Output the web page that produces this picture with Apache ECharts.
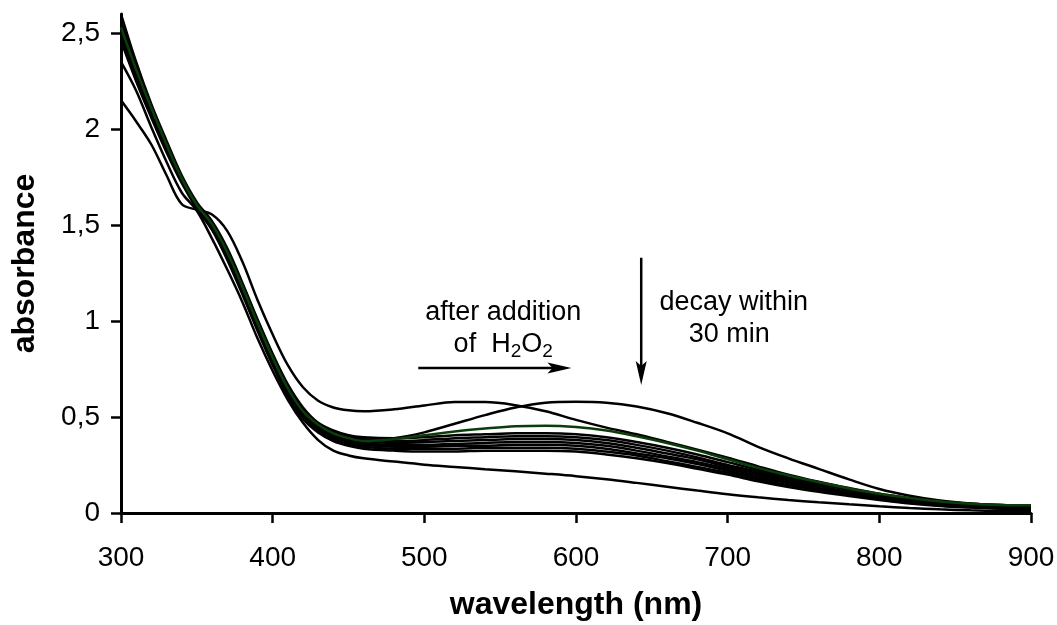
<!DOCTYPE html>
<html>
<head>
<meta charset="utf-8">
<script src="https://cdn.jsdelivr.net/npm/echarts@6/dist/echarts.min.js"></script>
<style>
  html, body { margin: 0; padding: 0; background: #fff; }
  #chart { width: 1057px; height: 625px; }
</style>
</head>
<body>
<div id="chart"></div>
<script>
// Wavelength grid (nm) shared by every spectrum
const wavelengths = [300,310,320,330,340,350,360,370,380,390,400,410,420,430,440,450,460,
  480,500,520,540,560,580,600,620,640,660,680,700,720,740,760,780,800,820,840,860,880,900];

// Initial spectrum with the 350 nm shoulder and band near 525 nm
const spectrumInitial = [2.15,2.04,1.92,1.76,1.61,1.58,1.555,1.47,1.31,1.11,0.93,0.77,0.655,0.585,0.55,0.535,0.53,
  0.54,0.56,0.578,0.578,0.562,0.53,0.485,0.445,0.41,0.37,0.33,0.288,0.243,0.2,0.163,0.13,0.1,0.078,0.06,0.048,0.042,0.04];

// Spectrum right after H2O2 addition (band near 600 nm)
const spectrumPeroxide = [2.55,2.33,2.12,1.93,1.75,1.61,1.51,1.37,1.19,1.0,0.82,0.66,0.54,0.465,0.42,0.395,0.38,
  0.39,0.42,0.465,0.51,0.55,0.575,0.58,0.575,0.555,0.52,0.47,0.415,0.345,0.285,0.23,0.175,0.125,0.09,0.065,0.05,0.042,0.04];

// Next trace (drawn in dark green)
const spectrumGreen = [2.53,2.31,2.11,1.92,1.745,1.605,1.505,1.36,1.18,0.99,0.81,0.65,0.53,0.46,0.415,0.39,0.375,
  0.385,0.405,0.425,0.44,0.452,0.455,0.448,0.43,0.4,0.365,0.325,0.28,0.235,0.195,0.16,0.128,0.1,0.078,0.06,0.048,0.042,0.04];

// Decay traces
const decay1 = [2.6,2.35,2.13,1.94,1.76,1.62,1.52,1.38,1.2,1.01,0.83,0.67,0.55,0.47,0.43,0.405,0.395,
  0.39,0.395,0.405,0.41,0.415,0.415,0.41,0.395,0.37,0.34,0.305,0.265,0.225,0.19,0.155,0.125,0.095,0.07,0.05,0.04,0.03,0.03];
const decay2 = [2.56,2.33,2.12,1.93,1.75,1.61,1.51,1.37,1.19,1.0,0.82,0.66,0.54,0.465,0.425,0.4,0.385,
  0.375,0.38,0.39,0.395,0.4,0.4,0.395,0.38,0.355,0.325,0.29,0.25,0.215,0.18,0.15,0.12,0.09,0.068,0.048,0.038,0.03,0.028];
const decay3 = [2.54,2.32,2.11,1.92,1.745,1.605,1.505,1.36,1.18,0.99,0.81,0.65,0.53,0.46,0.415,0.39,0.375,
  0.365,0.37,0.375,0.38,0.385,0.385,0.38,0.365,0.34,0.31,0.28,0.24,0.205,0.17,0.14,0.11,0.085,0.063,0.046,0.036,0.028,0.026];
const decay4 = [2.52,2.3,2.1,1.91,1.74,1.6,1.5,1.35,1.17,0.98,0.8,0.64,0.52,0.45,0.405,0.38,0.365,
  0.355,0.355,0.36,0.365,0.37,0.37,0.365,0.35,0.325,0.295,0.265,0.23,0.195,0.16,0.13,0.105,0.08,0.06,0.044,0.034,0.027,0.024];
const decay5 = [2.5,2.29,2.09,1.9,1.735,1.595,1.49,1.34,1.16,0.97,0.79,0.63,0.51,0.44,0.395,0.37,0.355,
  0.345,0.345,0.35,0.35,0.355,0.355,0.35,0.335,0.31,0.285,0.255,0.22,0.185,0.155,0.125,0.1,0.076,0.056,0.041,0.032,0.025,0.022];
const decay6 = [2.48,2.27,2.08,1.89,1.73,1.59,1.48,1.33,1.15,0.96,0.78,0.62,0.5,0.43,0.385,0.36,0.345,
  0.335,0.335,0.335,0.34,0.34,0.34,0.335,0.32,0.3,0.27,0.24,0.21,0.175,0.145,0.12,0.095,0.072,0.053,0.039,0.03,0.024,0.02];
const decay7 = [2.46,2.25,2.06,1.88,1.72,1.585,1.475,1.32,1.14,0.95,0.77,0.61,0.49,0.42,0.375,0.35,0.335,
  0.325,0.32,0.32,0.325,0.325,0.325,0.32,0.305,0.285,0.26,0.23,0.2,0.165,0.135,0.11,0.088,0.068,0.05,0.037,0.028,0.022,0.018];

// Final, fully decayed spectrum
const spectrumFinal = [2.35,2.2,2.01,1.83,1.67,1.575,1.43,1.27,1.1,0.91,0.74,0.59,0.47,0.38,0.325,0.3,0.285,
  0.268,0.252,0.24,0.228,0.217,0.205,0.192,0.176,0.157,0.137,0.117,0.098,0.082,0.068,0.056,0.045,0.035,0.026,0.019,0.014,0.011,0.01];

const xTicks = [300,400,500,600,700,800,900];
const yTicks = [0,0.5,1,1.5,2,2.5];

const traces = [
  { values: decay1, color: '#000000' },
  { values: decay2, color: '#000000' },
  { values: decay3, color: '#000000' },
  { values: decay4, color: '#000000' },
  { values: decay5, color: '#000000' },
  { values: decay6, color: '#000000' },
  { values: decay7, color: '#000000' },
  { values: spectrumFinal, color: '#000000' },
  { values: spectrumInitial, color: '#000000' },
  { values: spectrumPeroxide, color: '#000000' },
  { values: spectrumGreen, color: '#0b3d0b' }
];

const FONT = '"Liberation Sans", Arial, sans-serif';
const fmt = v => String(v).replace('.', ',');

const chart = echarts.init(document.getElementById('chart'), null, { renderer: 'canvas' });

chart.setOption({
  animation: false,
  backgroundColor: '#ffffff',
  grid: { left: 121, right: 26, top: 14, bottom: 112, containLabel: false, outerBoundsMode: 'none' },
  xAxis: {
    type: 'value', min: 300, max: 900, interval: 100,
    name: 'wavelength (nm)', nameLocation: 'middle', nameGap: 76,
    nameTextStyle: { fontFamily: FONT, fontSize: 32, fontWeight: 'bold', color: '#000' },
    axisLine: { show: true, onZero: false, lineStyle: { color: '#000', width: 3 } },
    axisTick: { show: true, inside: false, length: 10, lineStyle: { color: '#000', width: 2.5 } },
    axisLabel: { fontFamily: FONT, fontSize: 28, color: '#000', margin: 31,
      customValues: xTicks },
    splitLine: { show: false }
  },
  yAxis: {
    type: 'value', min: 0, max: 2.6,
    name: 'absorbance', nameLocation: 'middle', nameGap: 80, nameRotate: 90,
    nameTextStyle: { fontFamily: FONT, fontSize: 32, fontWeight: 'bold', color: '#000' },
    axisLine: { show: true, onZero: false, lineStyle: { color: '#000', width: 3 } },
    axisTick: { show: true, inside: false, length: 10, lineStyle: { color: '#000', width: 2.5 },
      customValues: yTicks },
    axisLabel: { fontFamily: FONT, fontSize: 28, color: '#000', margin: 21,
      customValues: yTicks, formatter: v => fmt(v) },
    splitLine: { show: false }
  },
  series: traces.map((t, i) => ({
    type: 'line',
    name: 'trace' + i,
    data: wavelengths.map((w, k) => [w, t.values[k]]),
    smooth: 0.35,
    showSymbol: false,
    symbol: 'none',
    lineStyle: { color: t.color, width: 2.5 },
    z: t.color === '#000000' ? 2 : 3,
    silent: true
  }))
});

// Annotation anchors in data space (wavelength, absorbance)
const ann = {
  hArrow: [[496, 0.755], [597, 0.755]],
  vArrow: [[643, 1.33], [643, 0.667]],
  text1: [552, 1.045],
  text2: [552, 0.88],
  text3: [704, 1.095],
  text4: [701, 0.93]
};
const px = p => chart.convertToPixel({ gridIndex: 0 }, p);

const h0 = px(ann.hArrow[0]), h1 = px(ann.hArrow[1]);
const v0 = px(ann.vArrow[0]), v1 = px(ann.vArrow[1]);
const t1 = px(ann.text1), t2 = px(ann.text2), t3 = px(ann.text3), t4 = px(ann.text4);

const textStyleBase = { fontFamily: FONT, fontSize: 27, fill: '#000', align: 'center', verticalAlign: 'middle' };

chart.setOption({
  graphic: [
    { type: 'line', shape: { x1: h0[0], y1: h0[1], x2: h1[0] - 12, y2: h1[1] }, style: { stroke: '#000', lineWidth: 2.5 } },
    { type: 'polygon', shape: { points: [[h1[0], h1[1]], [h1[0] - 24, h1[1] - 5.5], [h1[0] - 19, h1[1]], [h1[0] - 24, h1[1] + 5.5]] }, style: { fill: '#000' } },
    { type: 'line', shape: { x1: v0[0], y1: v0[1], x2: v1[0], y2: v1[1] - 12 }, style: { stroke: '#000', lineWidth: 2.5 } },
    { type: 'polygon', shape: { points: [[v1[0], v1[1]], [v1[0] - 5.5, v1[1] - 24], [v1[0], v1[1] - 19], [v1[0] + 5.5, v1[1] - 24]] }, style: { fill: '#000' } },
    { type: 'text', x: t1[0], y: t1[1], style: Object.assign({ text: 'after addition' }, textStyleBase) },
    { type: 'text', x: t2[0], y: t2[1], style: Object.assign({
        text: 'of  H{s|2}O{s|2}',
        rich: { s: { fontFamily: FONT, fontSize: 19, fill: '#000', padding: [16, 0, 0, 0] } }
      }, textStyleBase) },
    { type: 'text', x: t3[0], y: t3[1], style: Object.assign({ text: 'decay within' }, textStyleBase) },
    { type: 'text', x: t4[0], y: t4[1], style: Object.assign({ text: '30 min' }, textStyleBase) }
  ]
});
</script>
</body>
</html>
